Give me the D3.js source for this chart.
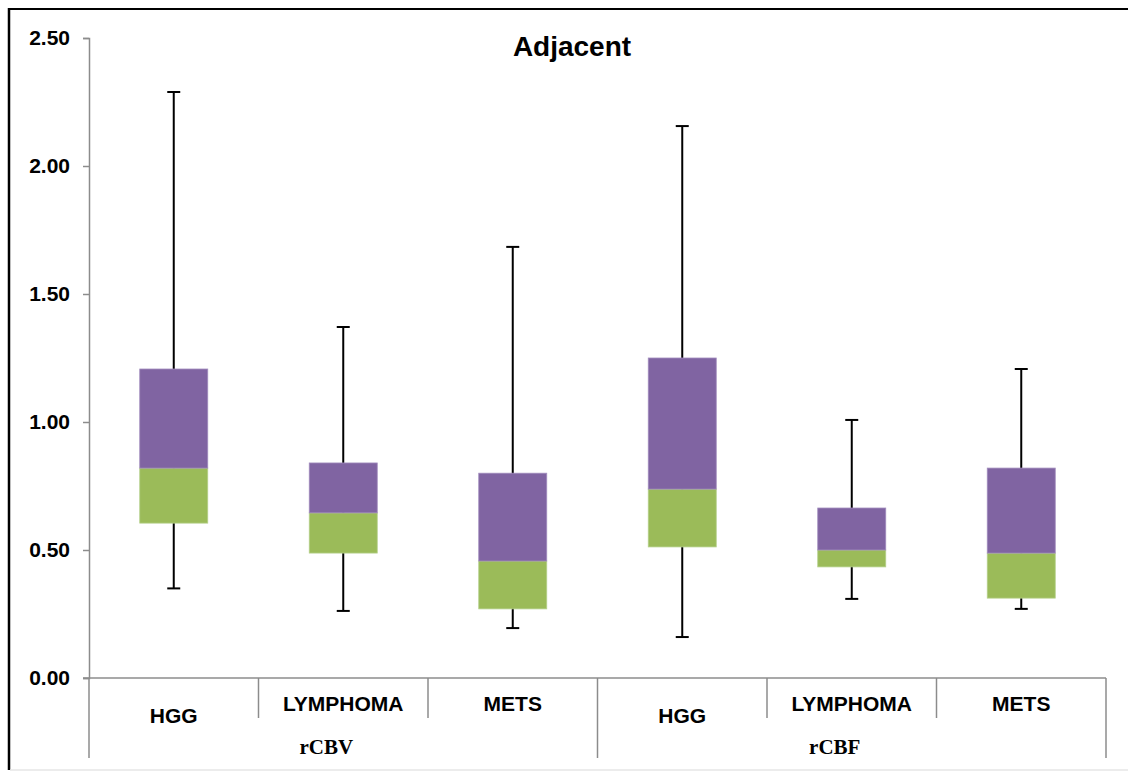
<!DOCTYPE html>
<html>
<head>
<meta charset="utf-8">
<script src="https://cdn.jsdelivr.net/npm/d3@7"></script>
<style>
  body { margin: 0; background: #fff; }
  svg { display: block; }
</style>
</head>
<body>
<div id="c1"></div>
<script>
// data
groups = ["rCBV", "rCBF"]
categories = ["HGG", "LYMPHOMA", "METS"]
whiskerMin = [0.35, 0.262, 0.195, 0.16, 0.309, 0.27]
q1 = [0.605, 0.488, 0.27, 0.512, 0.434, 0.312]
median = [0.82, 0.645, 0.457, 0.738, 0.50, 0.488]
q3 = [1.207, 0.84, 0.80, 1.25, 0.664, 0.82]
whiskerMax = [2.289, 1.371, 1.684, 2.156, 1.008, 1.207]
yTicks = [0, 0.5, 1.0, 1.5, 2.0, 2.5]

W = 1128, H = 771
margin1 = {top: 38, left: 89, right: 22, bottom: 93}
width1 = W - margin1.left - margin1.right
height1 = H - margin1.top - margin1.bottom

rows = []
groups.forEach((g, gi) => categories.forEach((c, ci) => {
  i = gi * categories.length + ci
  rows.push({key: g + ":" + c, group: g, cat: c, min: whiskerMin[i], q1: q1[i],
             med: median[i], q3: q3[i], max: whiskerMax[i]})
}))

svg = d3.select("#c1").append("svg")
  .attr("width", W).attr("height", H)

// outer frame
svg.append("line").attr("x1", 9).attr("x2", W).attr("y1", 9).attr("y2", 9)
  .style("stroke", "#000").style("stroke-width", 2)
svg.append("line").attr("x1", 9).attr("x2", 9).attr("y1", 8).attr("y2", 770)
  .style("stroke", "#000").style("stroke-width", 2.5)
svg.append("line").attr("x1", 10).attr("x2", W).attr("y1", 770).attr("y2", 770)
  .style("stroke", "#e6e6e6").style("stroke-width", 1.5)

g1 = svg.append("g")
  .attr("transform", `translate(${margin1.left}, ${margin1.top})`)

x = d3.scaleBand()
  .domain(rows.map(d => d.key))
  .range([0, width1])
  .padding(0)
y = d3.scaleLinear()
  .domain([0, 2.5])
  .range([height1, 0])

// y axis
yAxis = g1.append("g")
  .call(d3.axisLeft(y).tickValues(yTicks).tickSize(6).tickPadding(13).tickFormat(d3.format(".2f")))
yAxis.select(".domain").style("stroke", "#8c8c8c").style("stroke-width", 1.5)
yAxis.selectAll(".tick line").style("stroke", "#8c8c8c").style("stroke-width", 1.5)
yAxis.selectAll(".tick text")
  .style("font-family", "'Liberation Sans', Arial, sans-serif")
  .style("font-weight", "bold").style("font-size", "21px").style("fill", "#000")

// category baseline
g1.append("line").attr("x1", -6).attr("x2", width1)
  .attr("y1", y(0)).attr("y2", y(0))
  .style("stroke", "#8c8c8c").style("stroke-width", 1.5)

// category separators: short inside a group, long at group edges
seps = d3.range(rows.length + 1)
g1.selectAll(".sep").data(seps).join("line")
  .attr("class", "sep")
  .attr("x1", i => i < rows.length ? x(rows[i].key) : width1)
  .attr("x2", i => i < rows.length ? x(rows[i].key) : width1)
  .attr("y1", y(0))
  .attr("y2", i => i % categories.length === 0 ? y(0) + 80 : y(0) + 40)
  .style("stroke", "#8c8c8c").style("stroke-width", 1.5)

// category labels
g1.selectAll(".cat").data(rows).join("text")
  .attr("class", "cat")
  .attr("x", d => x(d.key) + x.bandwidth() / 2)
  .attr("y", d => d.cat === "HGG" ? y(0) + 45 : y(0) + 33)
  .attr("text-anchor", "middle")
  .style("font-family", "'Liberation Sans', Arial, sans-serif")
  .style("font-weight", "bold").style("font-size", "21px")
  .text(d => d.cat)

// group labels
groups.forEach(g => {
  gr = rows.filter(d => d.group === g)
  cx = (x(gr[0].key) + x(gr[gr.length - 1].key) + x.bandwidth()) / 2
  g1.append("text")
    .attr("x", cx - 17)
    .attr("y", y(0) + 76)
    .attr("text-anchor", "middle")
    .style("font-family", "'Liberation Serif', 'Times New Roman', serif")
    .style("font-weight", "bold").style("font-size", "21px")
    .text(g)
})

boxW = 68, capW = 13

// whiskers
g1.selectAll(".whisker").data(rows).join("line")
  .attr("class", "whisker")
  .attr("x1", d => x(d.key) + x.bandwidth() / 2)
  .attr("x2", d => x(d.key) + x.bandwidth() / 2)
  .attr("y1", d => y(d.max)).attr("y2", d => y(d.min))
  .style("stroke", "#000").style("stroke-width", 2)
;["max", "min"].forEach(k => {
  g1.selectAll(".cap-" + k).data(rows).join("line")
    .attr("class", "cap-" + k)
    .attr("x1", d => x(d.key) + x.bandwidth() / 2 - capW / 2)
    .attr("x2", d => x(d.key) + x.bandwidth() / 2 + capW / 2)
    .attr("y1", d => y(d[k])).attr("y2", d => y(d[k]))
    .style("stroke", "#000").style("stroke-width", 2)
})

// lower box (q1 - median)
g1.selectAll(".lower").data(rows).join("rect")
  .attr("class", "lower")
  .attr("x", d => x(d.key) + (x.bandwidth() - boxW) / 2)
  .attr("y", d => y(d.med))
  .attr("width", boxW)
  .attr("height", d => y(d.q1) - y(d.med))
  .style("fill", "#9BBB59")
  .style("stroke", "#b5d08a").style("stroke-width", 0.8)

// upper box (median - q3)
g1.selectAll(".upper").data(rows).join("rect")
  .attr("class", "upper")
  .attr("x", d => x(d.key) + (x.bandwidth() - boxW) / 2)
  .attr("y", d => y(d.q3))
  .attr("width", boxW)
  .attr("height", d => y(d.med) - y(d.q3))
  .style("fill", "#8064A2")
  .style("stroke", "#a18cbd").style("stroke-width", 0.8)

// title
svg.append("text")
  .attr("x", 572).attr("y", 56)
  .attr("text-anchor", "middle")
  .style("font-family", "'Liberation Sans', Arial, sans-serif")
  .style("font-weight", "bold").style("font-size", "28px")
  .text("Adjacent")
</script>
</body>
</html>
